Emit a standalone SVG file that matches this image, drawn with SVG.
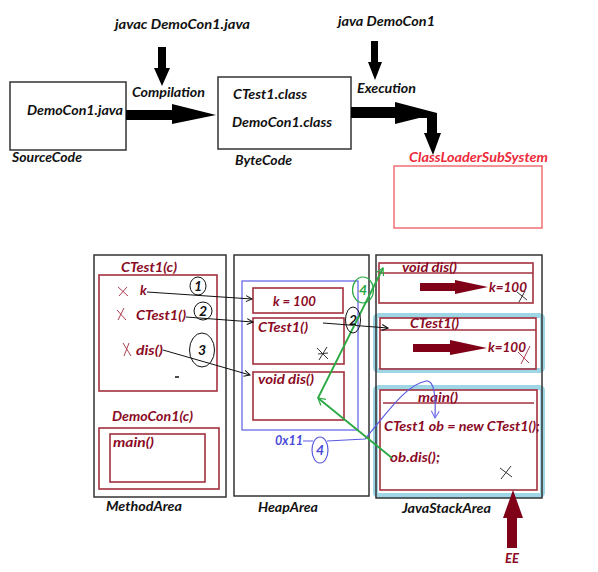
<svg xmlns="http://www.w3.org/2000/svg" width="598" height="572" viewBox="0 0 598 572">
<style>
text{font-family:Lato,"Liberation Sans",sans-serif;font-weight:bold;font-style:italic;font-size:13.5px}
.k{fill:#111}
.r{fill:#8b0a25}
.rl{fill:#ee2a3a}
.b{fill:#4a4ad8}
.g{fill:#2aa843}
.n{font-size:14px}
.box{fill:none;stroke:#333;stroke-width:1.5}
.rb{fill:none;stroke:#a3303f;stroke-width:1.6}
.band{fill:none;stroke:#9fd6e6;stroke-width:5}
.thin{fill:none;stroke:#111;stroke-width:1}
.xr{stroke:#b04050;stroke-width:1}
.xk{stroke:#333;stroke-width:1}
.blk{fill:#000}
.dr{fill:#800018}
</style>
<defs>
<marker id="ok" markerWidth="8" markerHeight="8" refX="7" refY="4" orient="auto" markerUnits="userSpaceOnUse"><path d="M1,1 L7,4 L1,7" fill="none" stroke="#111" stroke-width="1"/></marker>
<marker id="og" markerWidth="10" markerHeight="10" refX="8" refY="5" orient="auto" markerUnits="userSpaceOnUse"><path d="M1,1 L8,5 L1,9" fill="none" stroke="#2aa843" stroke-width="1.2"/></marker>
<marker id="ob" markerWidth="10" markerHeight="10" refX="8" refY="5" orient="auto" markerUnits="userSpaceOnUse"><path d="M1,1 L8,5 L1,9" fill="none" stroke="#6a6ae8" stroke-width="1"/></marker>
</defs>

<g id="label-javac"><text class="k" x="115" y="29" textLength="135" lengthAdjust="spacingAndGlyphs">javac DemoCon1.java</text></g>
<g id="label-java"><text class="k" x="338" y="26" textLength="97" lengthAdjust="spacingAndGlyphs">java DemoCon1</text></g>

<g id="source-code">
<rect class="box" x="10" y="82" width="116" height="68"/>
<text class="k" x="27" y="115" textLength="96" lengthAdjust="spacingAndGlyphs">DemoCon1.java</text>
<text class="k" x="12" y="162" textLength="70" lengthAdjust="spacingAndGlyphs">SourceCode</text>
</g>

<g id="byte-code">
<rect class="box" x="218" y="77" width="133" height="72"/>
<text class="k" x="233" y="99" textLength="74" lengthAdjust="spacingAndGlyphs">CTest1.class</text>
<text class="k" x="232" y="127" textLength="100" lengthAdjust="spacingAndGlyphs">DemoCon1.class</text>
<text class="k" x="235" y="165" textLength="57" lengthAdjust="spacingAndGlyphs">ByteCode</text>
</g>

<g id="class-loader">
<text class="rl" x="409" y="162" textLength="139" lengthAdjust="spacingAndGlyphs">ClassLoaderSubSystem</text>
<rect x="394" y="166" width="148" height="62" fill="none" stroke="#f07075" stroke-width="1.5"/>
</g>

<g id="method-area">
<rect class="box" x="94" y="255" width="132" height="242"/>
<text class="r" x="121" y="272" textLength="56" lengthAdjust="spacingAndGlyphs">CTest1(c)</text>
<rect class="rb" x="99" y="275" width="118" height="116"/>
<line class="xr" x1="118" y1="287" x2="128" y2="296"/><line class="xr" x1="119" y1="296" x2="127" y2="287"/>
<text class="r" x="140" y="295">k</text>
<line class="xr" x1="117" y1="310" x2="126" y2="320"/><line class="xr" x1="118" y1="320" x2="124" y2="308"/>
<text class="r" x="136" y="320" textLength="50" lengthAdjust="spacingAndGlyphs">CTest1()</text>
<line class="xr" x1="123" y1="343" x2="131" y2="356"/><line class="xr" x1="124" y1="356" x2="129" y2="343"/>
<text class="r" x="136" y="355" textLength="27" lengthAdjust="spacingAndGlyphs">dis()</text>
<line x1="175" y1="377" x2="179" y2="377" stroke="#111" stroke-width="1.5"/>
<text class="r" x="112" y="421" textLength="81" lengthAdjust="spacingAndGlyphs">DemoCon1(c)</text>
<rect class="rb" x="99" y="428" width="120" height="61"/>
<rect class="rb" x="110" y="434" width="95" height="48"/>
<text class="r" x="113" y="447" textLength="41" lengthAdjust="spacingAndGlyphs">main()</text>
<text class="k" x="106" y="511" textLength="76" lengthAdjust="spacingAndGlyphs">MethodArea</text>
</g>

<g id="heap-area">
<rect class="box" x="234" y="255" width="135" height="241"/>
<rect x="242" y="281" width="116" height="149" fill="none" stroke="#6a6ae8" stroke-width="1.3"/>
<rect class="rb" x="253" y="288" width="90" height="25"/>
<text class="r" x="273" y="306" textLength="43" lengthAdjust="spacingAndGlyphs">k = 100</text>
<rect class="rb" x="253" y="318" width="91" height="46"/>
<text class="r" x="258" y="332" textLength="50" lengthAdjust="spacingAndGlyphs">CTest1()</text>
<line class="xk" x1="317" y1="348" x2="328" y2="359"/><line class="xk" x1="327" y1="347" x2="319" y2="360"/><line class="xk" x1="318" y1="354" x2="328" y2="353"/>
<rect class="rb" x="253" y="372" width="91" height="48"/>
<text class="r" x="258" y="384" textLength="56" lengthAdjust="spacingAndGlyphs">void dis()</text>
<text class="k" x="258" y="512" textLength="60" lengthAdjust="spacingAndGlyphs">HeapArea</text>
</g>

<g id="java-stack-area">
<rect class="band" x="375.5" y="315.5" width="167" height="55" rx="3"/>
<rect class="band" x="375.5" y="387.5" width="167" height="108" rx="3"/>
<rect class="box" x="376" y="255" width="166" height="243"/>

<rect class="rb" x="379" y="263" width="154" height="40"/>
<line class="rb" x1="379" y1="273" x2="533" y2="273"/>
<text class="r" x="402" y="272" textLength="55" lengthAdjust="spacingAndGlyphs">void dis()</text>
<path class="dr" d="M420,283 H455 V280 L488,287 L455,294 V291 H420 Z"/>
<text class="r" x="489" y="292" textLength="38" lengthAdjust="spacingAndGlyphs">k=100</text>
<line class="xk" x1="517" y1="292" x2="527" y2="300"/><line class="xk" x1="519" y1="302" x2="525" y2="291"/>

<rect class="rb" x="380" y="318" width="156" height="51"/>
<line class="rb" x1="380" y1="330" x2="536" y2="330"/>
<text class="r" x="410" y="328" textLength="49" lengthAdjust="spacingAndGlyphs">CTest1()</text>
<path class="dr" d="M413,344 H450 V340 L487,348 L450,355 V352 H413 Z"/>
<text class="r" x="488" y="352" textLength="38" lengthAdjust="spacingAndGlyphs">k=100</text>
<line class="xr" x1="518" y1="352" x2="529" y2="363"/><line class="xr" x1="530" y1="346" x2="521" y2="364"/>

<rect class="rb" x="380" y="390" width="157" height="100"/>
<line class="rb" x1="383" y1="403" x2="534" y2="403"/>
<text class="r" x="418" y="402" textLength="40" lengthAdjust="spacingAndGlyphs">main()</text>
<text class="r" x="384" y="431" textLength="156" lengthAdjust="spacingAndGlyphs">CTest1 ob = new CTest1();</text>
<text class="r" x="390" y="462" textLength="50" lengthAdjust="spacingAndGlyphs">ob.dis();</text>
<line class="xk" x1="501" y1="479" x2="511" y2="466"/><line class="xk" x1="500" y1="468" x2="512" y2="477"/>
<text class="k" x="402" y="513" textLength="89" lengthAdjust="spacingAndGlyphs">JavaStackArea</text>
</g>

<g id="ee">
<path class="dr" d="M513,490 L523,518 H517 V548 H507 V518 H503 Z"/>
<text class="r" x="505" y="563" textLength="14" lengthAdjust="spacingAndGlyphs">EE</text>
</g>

<g id="connectors">
<path class="blk" d="M158,47 H166 V68 H170 L162,86 L154,68 H158 Z"/>
<text class="k" x="132" y="97" textLength="73" lengthAdjust="spacingAndGlyphs">Compilation</text>
<path class="blk" d="M126,110 H172 V104 L216,115 L172,124 V120 H126 Z"/>
<path class="blk" d="M371,41 H378 V62 H382 L375,80 L368,62 H371 Z"/>
<text class="k" x="357" y="93" textLength="59" lengthAdjust="spacingAndGlyphs">Execution</text>
<path class="blk" d="M351,107 H395 V102 L437,113 V133 H441 L433,155 L424,133 H427 V118 H395 V124 L395,118 H351 Z"/>
<path class="blk" d="M395,118 V124 L427,116 V118 Z"/>

<line class="thin" x1="147" y1="292" x2="252" y2="299" marker-end="url(#ok)"/>
<line class="thin" x1="186" y1="317" x2="253" y2="322" marker-end="url(#ok)"/>
<line class="thin" x1="163" y1="350" x2="250" y2="375" marker-end="url(#ok)"/>
<line class="thin" x1="323" y1="323" x2="388" y2="328" marker-end="url(#ok)"/>

<path d="M303,441 H313 M327,441 L365,439 C385,416 405,385 426,381 C434,380 436,395 435,418" fill="none" stroke="#5a5ae0" stroke-width="1.2" marker-end="url(#ob)"/>
<path d="M392,458 L318,398" fill="none" stroke="#2aa843" stroke-width="1.8" marker-end="url(#og)"/>
<path d="M318,398 L383,268" fill="none" stroke="#2aa843" stroke-width="1.8" marker-end="url(#og)"/>

<ellipse cx="198" cy="286" rx="8" ry="9" fill="none" stroke="#111"/>
<text class="k n" x="194" y="291">1</text>
<ellipse cx="203" cy="311" rx="9" ry="9" fill="none" stroke="#111"/>
<text class="k n" x="199" y="316">2</text>
<ellipse cx="202" cy="350" rx="12.5" ry="17" fill="none" stroke="#111"/>
<text class="k n" x="198" y="355">3</text>
<ellipse cx="353" cy="320" rx="7.5" ry="13" fill="none" stroke="#111"/>
<text class="k n" x="349" y="325">2</text>
<ellipse cx="363" cy="290" rx="10.5" ry="13" fill="none" stroke="#2aa843" stroke-width="1.2"/>
<text class="g n" x="359" y="295">4</text>
<ellipse cx="320" cy="450" rx="8" ry="13" fill="none" stroke="#5a5ae0" stroke-width="1.2"/>
<text class="b n" x="316" y="455">4</text>
<text class="b" x="275" y="445" textLength="28" lengthAdjust="spacingAndGlyphs">0x11</text>
</g>
</svg>
